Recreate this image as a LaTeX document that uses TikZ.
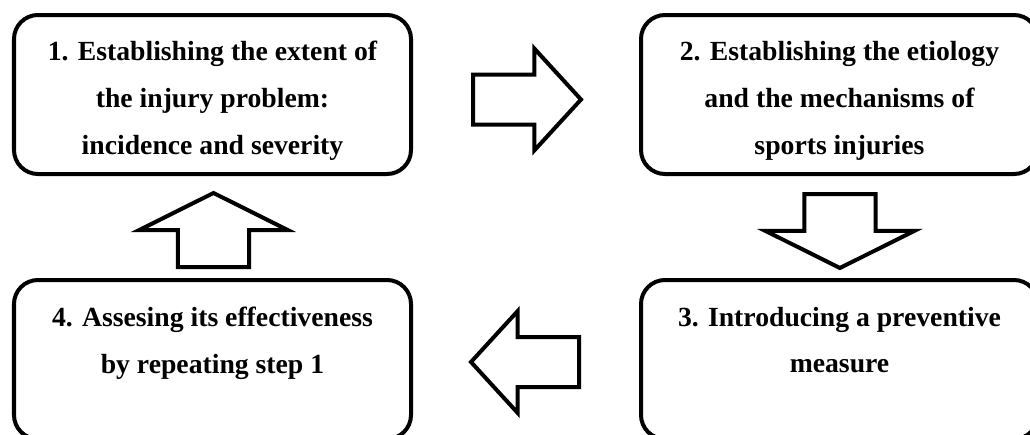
\documentclass[tikz,border=0pt]{standalone}
\usepackage{fontspec}
\setmainfont{Liberation Serif}
\usetikzlibrary{positioning,calc,shapes.arrows}

\tikzset{
stepbox/.style={draw,rectangle,rounded corners=0.6cm,line width=0.1cm,
minimum width=9.925cm,minimum height=3.975cm,
outer sep=0pt,inner sep=0pt,align=center,
font=\bfseries\fontsize{19.7}{33.1}\selectfont},
upperstep/.style={stepbox,text height=2.975cm,text depth=0cm},
lowerstep/.style={stepbox,text depth=0.975cm},
harrow/.style={draw,single arrow,fill=white,line width=0.1cm,anchor=tail,
inner sep=0pt,inner ysep=0.575cm,minimum height=2.7cm,
single arrow head extend=0.65cm,single arrow tip angle=95},
varrow/.style={draw,single arrow,fill=white,line width=0.1cm,anchor=tail,
inner sep=0pt,inner ysep=0.84cm,minimum height=1.85cm,
single arrow head extend=0.97cm,single arrow tip angle=127}
}

\begin{document}
\begin{tikzpicture}
\useasboundingbox (0,0) rectangle (25.75,-10.85);
\clip (0,0) rectangle (25.75,-10.85);

\node[upperstep](extent) at (5.3125,-2.3625){1. Establishing the extent of\\the injury problem:\\incidence and severity};

\node[upperstep,right=5.75cm of extent](etiology){2. Establishing the etiology\\and the mechanisms of\\sports injuries};

\node[lowerstep,below=2.65cm of etiology](measure){3. Introducing a preventive\\measure};

\node[lowerstep,below=2.65cm of extent](assess){4. Assesing its effectiveness\\by repeating step 1};

% block arrows between the steps
\node[harrow](a12) at ($(extent.east)+(1.5,-0.125)$){};
\node[varrow,rotate=-90](a23) at ($(etiology.south)+(0.01,-0.45)$){};
\node[harrow,rotate=180](a34) at ($(measure.west)+(-1.5,-0.0625)$){};
\node[varrow,rotate=90](a41) at ($(assess.north)+(0.025,0.275)$){};
\end{tikzpicture}
\end{document}
